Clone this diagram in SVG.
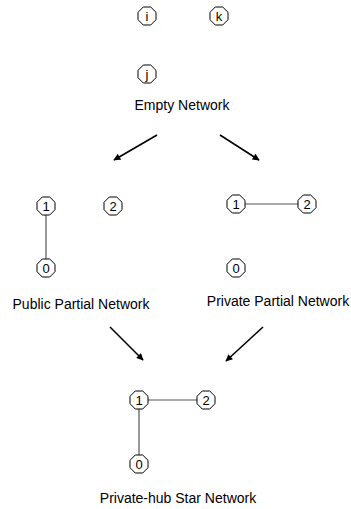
<svg xmlns="http://www.w3.org/2000/svg" width="351" height="509" viewBox="0 0 351 509">
<style>
.oct{fill:#fff;stroke:#000;stroke-width:1}
.nt{font-family:"Liberation Sans",Arial,sans-serif;font-size:13px;text-anchor:middle;fill:#000}
.lbl{font-family:"Liberation Sans",Arial,sans-serif;font-size:14px;text-anchor:middle;fill:#000}
.edge{stroke:#555;stroke-width:1.2;fill:none}
.arr{stroke:#000;stroke-width:1.6;fill:none;marker-end:url(#ah)}
</style>
<defs>
<polygon id="oct" points="9,3.7 3.7,9 -3.7,9 -9,3.7 -9,-3.7 -3.7,-9 3.7,-9 9,-3.7"/>
<marker id="ah" viewBox="0 0 10 10" refX="9" refY="5" markerWidth="8" markerHeight="7" orient="auto" markerUnits="userSpaceOnUse"><path d="M0,0 L10,5 L0,10 z" fill="#000"/></marker>
</defs>
<g id="connectors">
<line class="edge" x1="46" y1="206" x2="46" y2="268"/>
<line class="edge" x1="236" y1="204" x2="307" y2="204"/>
<line class="edge" x1="139" y1="400" x2="206" y2="400"/>
<line class="edge" x1="139" y1="400" x2="139" y2="464"/>
<line class="arr" x1="157" y1="135" x2="114" y2="160"/>
<line class="arr" x1="220" y1="135" x2="259" y2="160"/>
<line class="arr" x1="110" y1="327" x2="143" y2="360"/>
<line class="arr" x1="263" y1="327" x2="226" y2="361"/>
</g>
<g id="empty-i"><use href="#oct" class="oct" x="147" y="16"/><text class="nt" x="147" y="20.5">i</text></g>
<g id="empty-k"><use href="#oct" class="oct" x="219" y="16"/><text class="nt" x="219" y="20.5">k</text></g>
<g id="empty-j"><use href="#oct" class="oct" x="147" y="74"/><text class="nt" x="147" y="78.5">j</text></g>
<text class="lbl" x="182" y="110">Empty Network</text>
<g id="pub-1"><use href="#oct" class="oct" x="46" y="206"/><text class="nt" x="46" y="210.5">1</text></g>
<g id="pub-2"><use href="#oct" class="oct" x="113" y="206"/><text class="nt" x="113" y="210.5">2</text></g>
<g id="pub-0"><use href="#oct" class="oct" x="46" y="268"/><text class="nt" x="46" y="272.5">0</text></g>
<text class="lbl" x="81" y="309">Public Partial Network</text>
<g id="priv-1"><use href="#oct" class="oct" x="236" y="204"/><text class="nt" x="236" y="208.5">1</text></g>
<g id="priv-2"><use href="#oct" class="oct" x="307" y="204"/><text class="nt" x="307" y="208.5">2</text></g>
<g id="priv-0"><use href="#oct" class="oct" x="236" y="268"/><text class="nt" x="236" y="272.5">0</text></g>
<text class="lbl" x="278" y="306">Private Partial Network</text>
<g id="star-1"><use href="#oct" class="oct" x="139" y="400"/><text class="nt" x="139" y="404.5">1</text></g>
<g id="star-2"><use href="#oct" class="oct" x="206" y="400"/><text class="nt" x="206" y="404.5">2</text></g>
<g id="star-0"><use href="#oct" class="oct" x="139" y="464"/><text class="nt" x="139" y="468.5">0</text></g>
<text class="lbl" x="178" y="503">Private-hub Star Network</text>
</svg>
